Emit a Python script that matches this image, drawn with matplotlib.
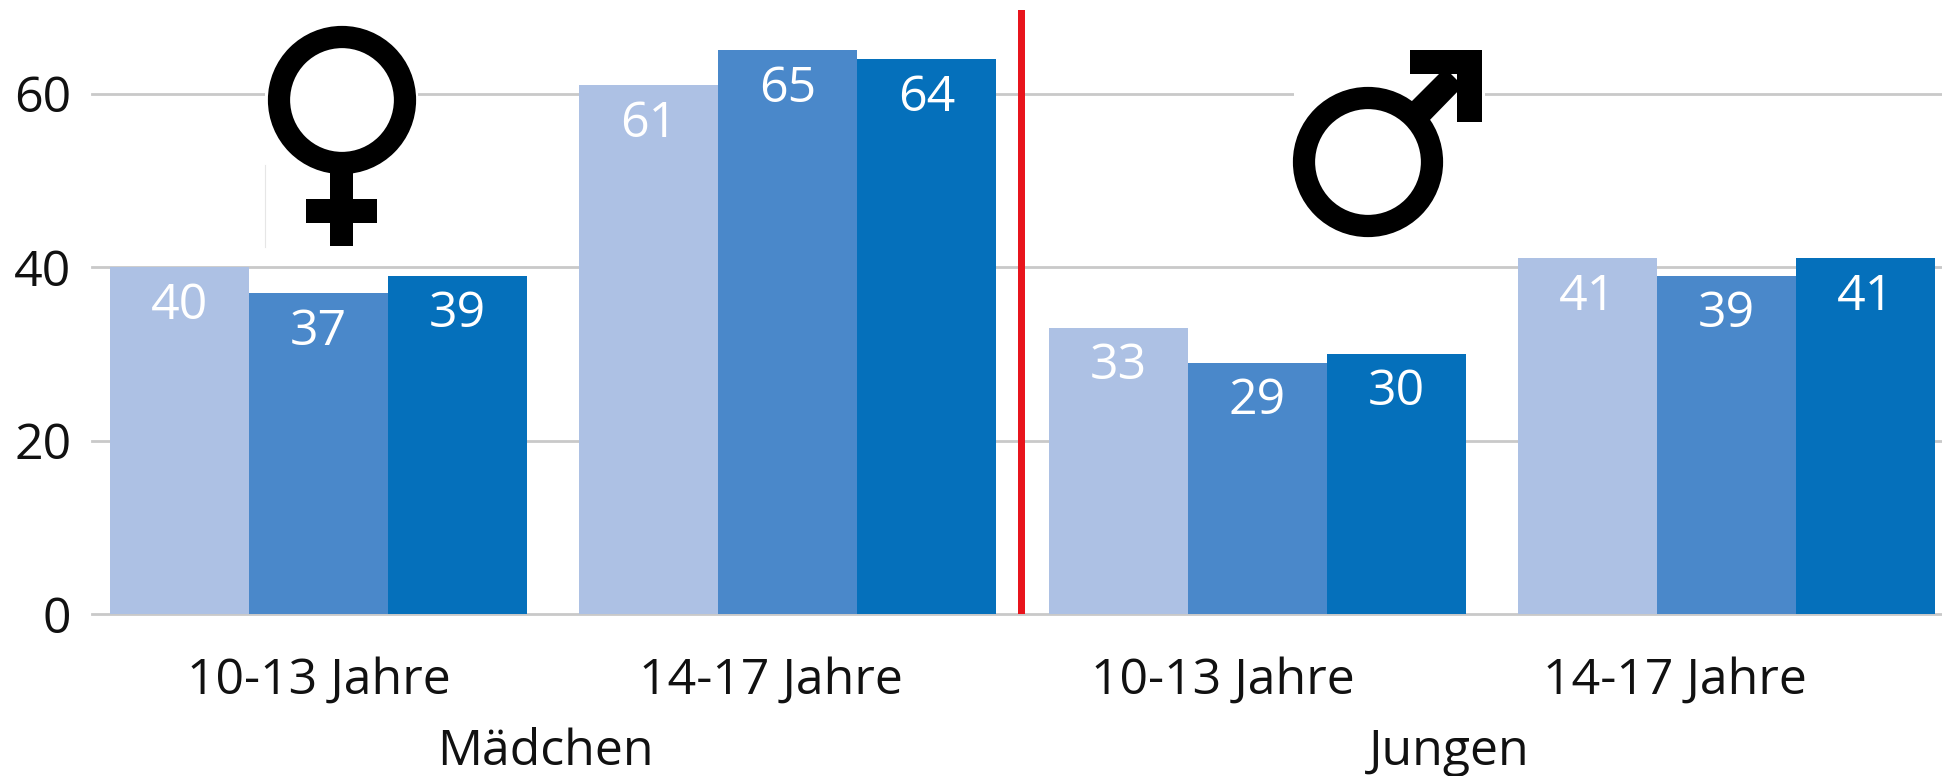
import matplotlib
matplotlib.use("Agg")
import matplotlib.pyplot as plt
import numpy as np
from matplotlib.patches import Circle, Rectangle, Polygon

categories = ["10-13 Jahre", "14-17 Jahre", "10-13 Jahre", "14-17 Jahre"]
groups = ["Mädchen", "Jungen"]
series_a = [40, 61, 33, 41]
series_b = [37, 65, 29, 39]
series_c = [39, 64, 30, 41]
yticks = [0, 20, 40, 60]
colors = ["#adc1e4", "#4a88ca", "#0570bb"]

W, H = 1942, 776
plt.rcParams["font.family"] = ["Open Sans", "DejaVu Sans"]
fig = plt.figure(figsize=(W / 100, H / 100), dpi=100)
fig.patch.set_facecolor("white")
ax = fig.add_axes([92 / W, (H - 614) / H, 1 - 92 / W, 614 / H])
ax.set_xlim(-0.4825, 3.4585)
ax.set_ylim(0, 70.8)
bw = 0.2960
x = np.arange(4)
for i, vals in enumerate([series_a, series_b, series_c]):
    bars = ax.bar(x + (i - 1) * bw, vals, width=bw, color=colors[i], zorder=3, linewidth=0)
    for b, v in zip(bars, vals):
        ax.annotate(str(v), (b.get_x() + b.get_width() / 2, v), xytext=(0, -28),
                    textcoords="offset points", ha="center", va="center",
                    color="white", fontsize=36, zorder=4)
ax.set_yticks(yticks)
# in the source the axis labels sit slightly tighter than the bar groups
ax.set_xticks(x * 0.963)
ax.set_xticklabels(categories)
ax.tick_params(axis="both", length=0, labelsize=36, colors="#111111")
ax.tick_params(axis="x", pad=30)
ax.tick_params(axis="y", pad=15)
ax.grid(axis="y", color="#c9c9c9", linewidth=2.0, zorder=1)
for gl in ax.get_ygridlines():
    gl.set_clip_on(False)
ax.grid(axis="x", visible=False)
ax.set_axisbelow(True)
for s in ax.spines.values():
    s.set_visible(False)
trans = ax.get_xaxis_transform()
ax.text(0.483, -0.246, groups[0], transform=trans, ha="center", va="baseline", fontsize=36, color="#111111")
ax.text(2.409, -0.246, groups[1], transform=trans, ha="center", va="baseline", fontsize=36, color="#111111")

ov = fig.add_axes([0, 0, 1, 1], facecolor="none")
ov.set_xlim(0, W)
ov.set_ylim(H, 0)
ov.axis("off")
ov.add_patch(Rectangle((1018, 10), 7, 604, color="#e8141c", lw=0))
# female sign
ov.add_patch(Rectangle((265, 25), 153, 222, color="white", lw=0))
ov.plot([265, 265], [165, 247], color="#e6e6e6", lw=0.8)
ov.add_patch(Circle((342, 100), 63, fill=False, ec="black", lw=16))
ov.add_patch(Rectangle((330, 165), 23, 81, color="black", lw=0))
ov.add_patch(Rectangle((306, 199), 71, 24, color="black", lw=0))
# male sign
ov.add_patch(Rectangle((1294, 40), 191, 200, color="white", lw=0))
ov.add_patch(Circle((1368, 162), 64, fill=False, ec="black", lw=16))
ov.add_patch(Rectangle((1410, 50), 72, 24, color="black", lw=0))
ov.add_patch(Rectangle((1457, 50), 25, 72, color="black", lw=0))
ov.add_patch(Polygon([[1405, 108], [1445, 68], [1463, 86], [1425, 125]], color="black", lw=0))

fig.savefig("out.png", dpi=100)
